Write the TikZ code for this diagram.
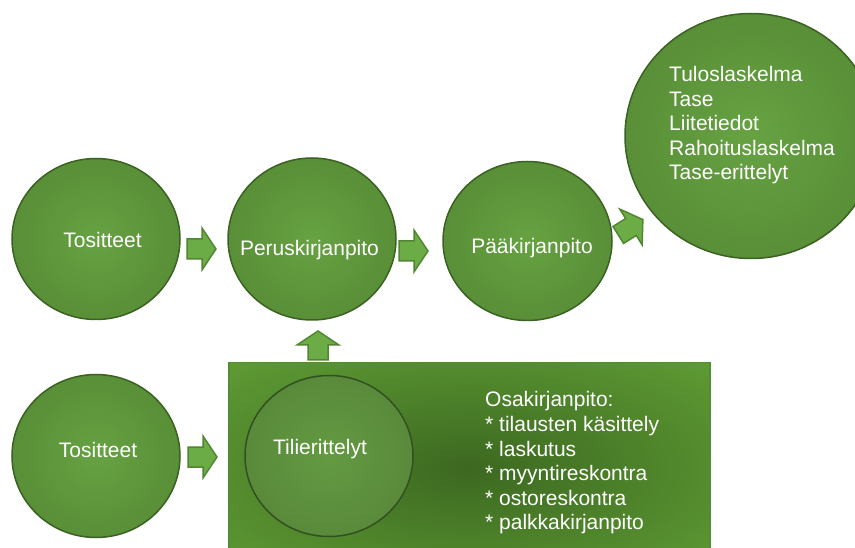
\documentclass[tikz,border=0pt]{standalone}
\usepackage{fontspec}
\setmainfont{Liberation Sans}
\usetikzlibrary{shapes.geometric}
\definecolor{cin}{RGB}{102,162,66}
\definecolor{cout}{RGB}{76,124,45}
\definecolor{cbord}{RGB}{60,98,34}
\definecolor{rin}{RGB}{60,104,32}
\definecolor{rout}{RGB}{108,176,60}
\definecolor{rbord}{RGB}{84,140,52}
\definecolor{afill}{RGB}{108,172,70}
\definecolor{abord}{RGB}{80,134,48}
\definecolor{iin}{RGB}{100,154,66}
\definecolor{iout}{RGB}{78,122,52}
\definecolor{ibord}{RGB}{50,80,32}
\pgfdeclareradialshading{circshade}{\pgfpoint{0bp}{0bp}}{color(0bp)=(cin); color(50bp)=(cout); color(75bp)=(cout)}
\pgfdeclareradialshading{rectshade}{\pgfpoint{0bp}{0bp}}{color(0bp)=(rin); color(50bp)=(rout); color(75bp)=(rout)}
\pgfdeclareradialshading{innershade}{\pgfpoint{0bp}{0bp}}{color(0bp)=(iin); color(50bp)=(iout); color(75bp)=(iout)}
\tikzset{
  circ/.style={ellipse, draw=cbord, line width=1.5pt, shading=circshade, inner sep=0pt},
  lbl/.style={text=white, font=\fontsize{21}{24.6}\selectfont, inner sep=0pt},
  blockarrow/.style={fill=afill, draw=abord, line width=1.5pt, line join=miter},
}
\newcommand{\blkarrow}[4]{% name, x, y, angle
  \begin{scope}[shift={(#2,#3)}, rotate=#4]
    \draw[blockarrow] (-15,-10) -- (0,-10) -- (0,-21) -- (14,0) -- (0,21) -- (0,10) -- (-15,10) -- cycle;
    \coordinate (#1) at (0,0);
  \end{scope}}
\begin{document}
\begin{tikzpicture}[x=1pt, y=-1pt]
\clip (0,0) rectangle (855,548);
\fill[white] (0,0) rectangle (855,548);

% top row circles
\node[circ, minimum width=168pt, minimum height=161pt] (c1) at (96,239) {};
\node[circ, minimum width=168pt, minimum height=162pt] (c2) at (312,239) {};
\node[circ, minimum width=169pt, minimum height=159pt] (c3) at (527.5,241) {};
\node[circ, minimum width=252pt, minimum height=245pt] (c4) at (751,136) {};
% bottom row
\node[circ, minimum width=168pt, minimum height=163pt] (c5) at (96,456) {};
\node[draw=rbord, line width=1.5pt, shading=rectshade, minimum width=481pt, minimum height=212pt, inner sep=0pt, anchor=north west] (box) at (228,362) {};
\node[ellipse, draw=ibord, line width=1.5pt, shading=innershade, minimum width=168pt, minimum height=161pt, inner sep=0pt] (c6) at (329,456) {};

% texts
\node[lbl, anchor=base] (t1) at (102.5,248) {Tositteet};
\node[lbl, anchor=base] (t2) at (309.5,256) {Peruskirjanpito};
\node[lbl, anchor=base] (t3) at (532,254) {Pääkirjanpito};
\node[lbl, anchor=north west, align=left] (t4) at (669,66) {Tuloslaskelma\\Tase\\Liitetiedot\\Rahoituslaskelma\\Tase-erittelyt};
\node[lbl, anchor=base] (t5) at (98,457) {Tositteet};
\node[lbl, anchor=base] (t6) at (320,454) {Tilierittelyt};
\node[lbl, anchor=north west, align=left] (t7) at (485,391.5) {Osakirjanpito:\\* tilausten käsittely\\* laskutus\\* myyntireskontra\\* ostoreskontra\\* palkkakirjanpito};

% block arrows
\blkarrow{a1}{202}{249}{0}
\blkarrow{a2}{414}{251}{0}
\blkarrow{a3}{631}{227}{32}
\blkarrow{a4}{203}{457}{0}
\blkarrow{a5}{318}{345}{90}
\end{tikzpicture}
\end{document}
